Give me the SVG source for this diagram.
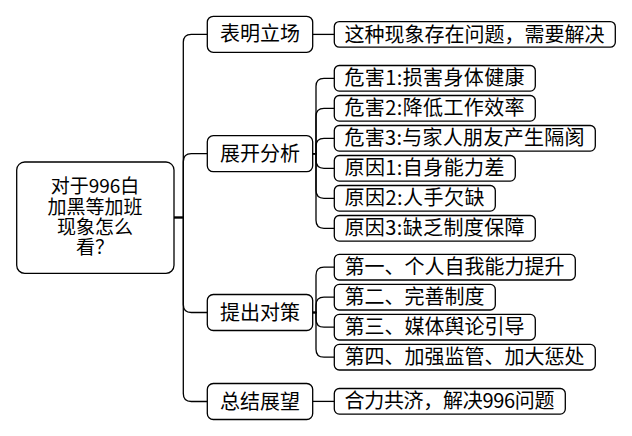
<svg xmlns="http://www.w3.org/2000/svg" width="632" height="436" viewBox="0 0 632 436">
<style>
.box{fill:#fff;stroke:#000;stroke-width:1.3}
.ln{fill:none;stroke:#000;stroke-width:1.3}
text{font-family:"Noto Sans CJK SC","Noto Sans",sans-serif;font-size:20px;fill:#000}
.m{text-anchor:middle}
.r{font-size:19px}
</style>
<rect width="632" height="436" fill="#fff"/>
<g id="connectors">
<path class="ln" d="M174,217.5 H183.3 V42.3 Q183.3,34.3 191.3,34.3 H207.3"/>
<path class="ln" d="M174,217.5 H183.3 V161.7 Q183.3,153.7 191.3,153.7 H207.3"/>
<path class="ln" d="M174,217.5 H183.3 V304.5 Q183.3,312.5 191.3,312.5 H207.3"/>
<path class="ln" d="M174,217.5 H183.3 V393.5 Q183.3,401.5 191.3,401.5 H207.3"/>
<path class="ln" d="M312.7,34.4 H334.3"/>
<path class="ln" d="M312.7,153.7 H316 V86.3 Q316,78.3 324,78.3 H334.3"/>
<path class="ln" d="M312.7,153.7 H316 V116.3 Q316,108.3 324,108.3 H334.3"/>
<path class="ln" d="M312.7,153.7 H316 V146.3 Q316,138.3 324,138.3 H334.3"/>
<path class="ln" d="M312.7,153.7 H316 V160.3 Q316,168.3 324,168.3 H334.3"/>
<path class="ln" d="M312.7,153.7 H316 V190.3 Q316,198.3 324,198.3 H334.3"/>
<path class="ln" d="M312.7,153.7 H316 V220.3 Q316,228.3 324,228.3 H334.3"/>
<path class="ln" d="M312.7,312.5 H316 V275.2 Q316,267.2 324,267.2 H334.3"/>
<path class="ln" d="M312.7,312.5 H316 V305.2 Q316,297.2 324,297.2 H334.3"/>
<path class="ln" d="M312.7,312.5 H316 V319.2 Q316,327.2 324,327.2 H334.3"/>
<path class="ln" d="M312.7,312.5 H316 V349.2 Q316,357.2 324,357.2 H334.3"/>
<path class="ln" d="M312.7,401.4 H334.3"/>
</g>
<g id="root">
<rect class="box" x="16.7" y="162" width="157.3" height="111.3" rx="8"/>
<text class="m r"><tspan x="95" y="193.3">对于996白</tspan><tspan x="95" y="213.6">加黑等加班</tspan><tspan x="95" y="233.9">现象怎么</tspan><tspan x="95" y="254.2">看？</tspan></text>
</g>
<g id="n1">
<rect class="box" x="207.3" y="16.3" width="105.4" height="36" rx="6"/>
<text class="m" x="260" y="41.3">表明立场</text>
</g>
<g id="n2">
<rect class="box" x="207.3" y="135.7" width="105.4" height="36" rx="6"/>
<text class="m" x="260" y="160.7">展开分析</text>
</g>
<g id="n3">
<rect class="box" x="207.3" y="294.5" width="105.4" height="36" rx="6"/>
<text class="m" x="260" y="319.5">提出对策</text>
</g>
<g id="n4">
<rect class="box" x="207.3" y="383.5" width="105.4" height="36" rx="6"/>
<text class="m" x="260" y="408.5">总结展望</text>
</g>
<g id="l1">
<rect class="box" x="334.3" y="21.6" width="281" height="25.6" rx="5"/>
<text x="344.5" y="41.5">这种现象存在问题，需要解决</text>
</g>
<g id="l2">
<rect class="box" x="334.3" y="65.5" width="201" height="25.6" rx="5"/>
<text x="344.5" y="85.3" textLength="180">危害1:损害身体健康</text>
</g>
<g id="l3">
<rect class="box" x="334.3" y="95.5" width="201" height="25.6" rx="5"/>
<text x="344.5" y="115.3" textLength="180">危害2:降低工作效率</text>
</g>
<g id="l4">
<rect class="box" x="334.3" y="125.5" width="261" height="25.6" rx="5"/>
<text x="344.5" y="145.3" textLength="240">危害3:与家人朋友产生隔阂</text>
</g>
<g id="l5">
<rect class="box" x="334.3" y="155.5" width="181" height="25.6" rx="5"/>
<text x="344.5" y="175.3" textLength="160">原因1:自身能力差</text>
</g>
<g id="l6">
<rect class="box" x="334.3" y="185.5" width="161" height="25.6" rx="5"/>
<text x="344.5" y="205.3" textLength="140">原因2:人手欠缺</text>
</g>
<g id="l7">
<rect class="box" x="334.3" y="215.5" width="201" height="25.6" rx="5"/>
<text x="344.5" y="235.3" textLength="180">原因3:缺乏制度保障</text>
</g>
<g id="l8">
<rect class="box" x="334.3" y="254.4" width="241" height="25.6" rx="5"/>
<text x="344.5" y="274.2">第一、个人自我能力提升</text>
</g>
<g id="l9">
<rect class="box" x="334.3" y="284.4" width="161" height="25.6" rx="5"/>
<text x="344.5" y="304.2">第二、完善制度</text>
</g>
<g id="l10">
<rect class="box" x="334.3" y="314.4" width="201" height="25.6" rx="5"/>
<text x="344.5" y="334.2">第三、媒体舆论引导</text>
</g>
<g id="l11">
<rect class="box" x="334.3" y="344.4" width="261" height="25.6" rx="5"/>
<text x="344.5" y="364.2">第四、加强监管、加大惩处</text>
</g>
<g id="l12">
<rect class="box" x="334.3" y="388.5" width="231" height="25.6" rx="5"/>
<text x="344.5" y="408.3" textLength="210">合力共济，解决996问题</text>
</g>
</svg>
